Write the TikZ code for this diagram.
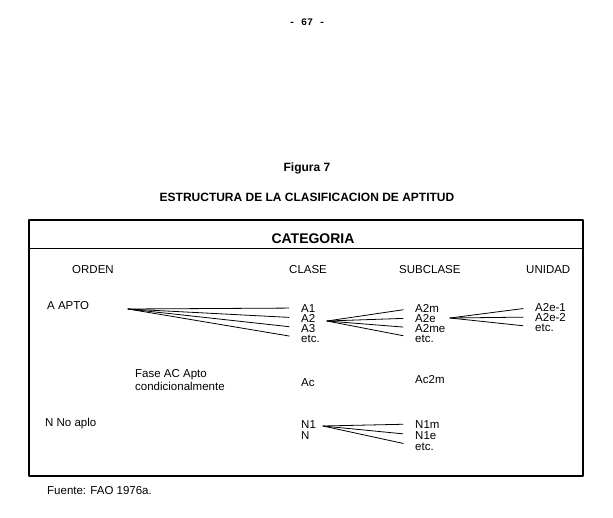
\documentclass[tikz,border=0pt]{standalone}
\usepackage{fontspec}
\setmainfont{Liberation Sans}
\setmonofont{Liberation Mono}
\tikzset{
  lbl/.style={anchor=west,inner sep=0pt,text height=8pt,text depth=0pt,font=\fontsize{11.5}{11}\selectfont},
  fan/.style={line width=0.8pt,shorten >=12pt},
  frame/.style={line width=1.1pt}
}
\begin{document}
\begin{tikzpicture}[x=1pt,y=-1pt,line cap=round,line join=round]
  \useasboundingbox (0,0) rectangle (613,517);
  \node[font=\ttfamily\bfseries\fontsize{10}{12}\selectfont,inner sep=0pt] (pag) at (307,22) {- 67 -};
  \node[font=\bfseries\fontsize{12}{14}\selectfont,inner sep=0pt] (fig) at (307,168) {Figura 7};
  \node[font=\bfseries\fontsize{12}{14}\selectfont,inner sep=0pt] (tit) at (307,197) {ESTRUCTURA DE LA CLASIFICACION DE APTITUD};
  % marco
  \draw[frame] (29,220) rectangle (583,476);
  \draw[line width=0.8pt] (29,248) -- (583,248);
  \node[font=\bfseries\fontsize{14}{16}\selectfont,inner sep=0pt] (cat) at (313,239) {CATEGORIA};
  \node[lbl] (orden) at (72,269) {ORDEN};
  \node[lbl] (clase) at (289,269) {CLASE};
  \node[lbl] (subcl) at (399,269) {SUBCLASE};
  \node[lbl] (unid) at (526,269) {UNIDAD};
  % apto
  \node[lbl] (apto) at (47,305) {A APTO};
  \node[lbl] (a1) at (301,308) {A1};
  \node[lbl] (a2) at (301,318) {A2};
  \node[lbl] (a3) at (301,328) {A3};
  \node[lbl] (aetc) at (301,338) {etc.};
  \node[lbl] (a2m) at (415,308) {A2m};
  \node[lbl] (a2e) at (415,318) {A2e};
  \node[lbl] (a2me) at (415,328) {A2me};
  \node[lbl] (a2etc) at (415,338) {etc.};
  \node[lbl] (a2e1) at (535,307) {A2e-1};
  \node[lbl] (a2e2) at (535,317) {A2e-2};
  \node[lbl] (a2eetc) at (535,327) {etc.};
  \coordinate (oa) at (128,309);
  \coordinate (oa2) at (327,321);
  \coordinate (oa2e) at (450,318);
  \foreach \t in {a1,a2,a3,aetc} \draw[fan] (oa) -- (\t.west);
  \foreach \t in {a2m,a2e,a2me,a2etc} \draw[fan] (oa2) -- (\t.west);
  \foreach \t in {a2e1,a2e2,a2eetc} \draw[fan] (oa2e) -- (\t.west);
  % fase
  \node[lbl,align=left,text height=,font=\fontsize{11.5}{13}\selectfont,anchor=north west] (fase) at (135,369) {Fase AC Apto\\condicionalmente};
  \node[lbl] (ac) at (301,382) {Ac};
  \node[lbl] (ac2m) at (415,379) {Ac2m};
  % no apto
  \node[lbl] (napto) at (45,422) {N No aplo};
  \node[lbl] (n1) at (301,424) {N1};
  \node[lbl] (n) at (301,435) {N};
  \node[lbl] (n1m) at (415,424) {N1m};
  \node[lbl] (n1e) at (415,435) {N1e};
  \node[lbl] (netc) at (415,446) {etc.};
  \coordinate (on1) at (323,426);
  \foreach \t in {n1m,n1e,netc} \draw[fan] (on1) -- (\t.west);
  \node[lbl] (fuente) at (47,490) {Fuente: FAO 1976a.};
\end{tikzpicture}
\end{document}
